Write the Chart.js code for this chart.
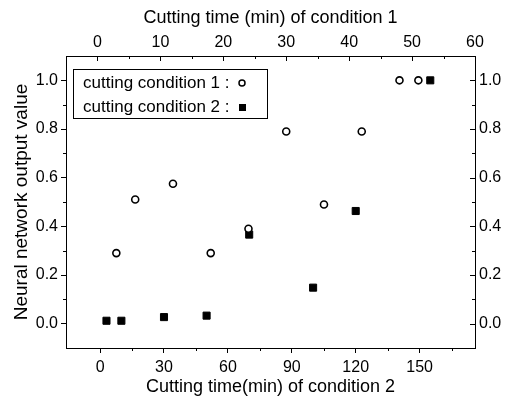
<!DOCTYPE html>
<html>
<head>
<meta charset="utf-8">
<script src="https://cdn.jsdelivr.net/npm/chart.js@4"></script>
<style>
  html, body { margin: 0; padding: 0; background: #fff; }
  #wrap { width: 508px; height: 407px; }
</style>
</head>
<body>
<div id="wrap"><canvas id="nnChart"></canvas></div>
<script>
// condition 1 is read on the top axis, condition 2 on the bottom one
const c1Time = [3, 6, 12, 18, 24, 30, 36, 42, 48, 51];
const c1Value = [0.29, 0.51, 0.575, 0.29, 0.39, 0.79, 0.49, 0.79, 1.0, 1.0];
const c2Time = [3, 10, 30, 50, 70, 100, 120, 155];
const c2Value = [0.012, 0.012, 0.027, 0.033, 0.366, 0.148, 0.463, 1.0];

const yTicks = [0, 0.2, 0.4, 0.6, 0.8, 1.0];
const yMinor = [0.1, 0.3, 0.5, 0.7, 0.9];
const x1Ticks = [0, 10, 20, 30, 40, 50, 60];
const x1Minor = [5, 15, 25, 35, 45, 55];
const x2Ticks = [0, 30, 60, 90, 120, 150];
const x2Minor = [15, 45, 75, 105, 135, 165];
const legendLabels = ["cutting condition 1 :", "cutting condition 2 :"];

const FONT = '"Liberation Sans", Arial, sans-serif';
const black = '#000';

// minor ticks, inward ticks on top/right, and the boxed legend
const extraTicks = {
  id: 'extraTicks',
  afterDraw(chart) {
    const ctx = chart.ctx;
    const ca = chart.chartArea;
    const s = chart.scales;
    const px = v => Math.round(v) + 0.5;
    ctx.save();
    ctx.strokeStyle = black;
    ctx.lineWidth = 1;
    ctx.beginPath();
    // left: minor outward
    yMinor.forEach(v => { const p = px(s.y.getPixelForValue(v)); ctx.moveTo(ca.left - 3, p); ctx.lineTo(ca.left, p); });
    // right: major + minor inward
    yTicks.forEach(v => { const p = px(s.y2.getPixelForValue(v)); ctx.moveTo(ca.right - 5, p); ctx.lineTo(ca.right, p); });
    yMinor.forEach(v => { const p = px(s.y2.getPixelForValue(v)); ctx.moveTo(ca.right - 3, p); ctx.lineTo(ca.right, p); });
    // bottom: minor outward
    x2Minor.forEach(v => { const p = px(s.x.getPixelForValue(v)); ctx.moveTo(p, ca.bottom); ctx.lineTo(p, ca.bottom + 3); });
    // top: major + minor inward
    x1Ticks.forEach(v => { const p = px(s.x1.getPixelForValue(v)); ctx.moveTo(p, ca.top); ctx.lineTo(p, ca.top + 5); });
    x1Minor.forEach(v => { const p = px(s.x1.getPixelForValue(v)); ctx.moveTo(p, ca.top); ctx.lineTo(p, ca.top + 3); });
    ctx.stroke();

    // legend box
    const bx = ca.left + 7, by = ca.top + 13;
    ctx.strokeRect(px(bx), px(by), 194, 49);
    ctx.fillStyle = black;
    ctx.font = '17px ' + FONT;
    ctx.textBaseline = 'middle';
    ctx.fillText(legendLabels[0], bx + 10, by + 14);
    ctx.fillText(legendLabels[1], bx + 10, by + 38);
    ctx.lineWidth = 1.5;
    ctx.beginPath();
    ctx.arc(bx + 169, by + 14, 3, 0, Math.PI * 2);
    ctx.stroke();
    ctx.fillRect(bx + 166, by + 35, 7, 7);
    ctx.restore();
  }
};

const tickFont = { family: FONT, size: 16 };
const titleFont = { family: FONT, size: 18 };

let ctx = document.getElementById('nnChart').getContext('2d');

let nnChart = new Chart(ctx, {
  type: 'scatter',
  data: {
    datasets: [{
      label: legendLabels[0],
      data: c1Time.map((t, i) => ({ x: t, y: c1Value[i] })),
      xAxisID: 'x1',
      yAxisID: 'y',
      pointStyle: 'circle',
      pointRadius: 3.5,
      borderWidth: 1.6,
      borderColor: black,
      backgroundColor: '#fff',
    }, {
      label: legendLabels[1],
      data: c2Time.map((t, i) => ({ x: t, y: c2Value[i] })),
      xAxisID: 'x',
      yAxisID: 'y',
      pointStyle: 'rect',
      pointRadius: 5,
      borderWidth: 1,
      borderColor: black,
      backgroundColor: black,
    }]
  },
  options: {
    responsive: true,
    maintainAspectRatio: false,
    animation: false,
    layout: { padding: 0 },
    plugins: {
      legend: { display: false },
      tooltip: { enabled: false },
    },
    scales: {
      x: {
        type: 'linear',
        position: 'bottom',
        min: -16,
        max: 176,
        afterBuildTicks: sc => { sc.ticks = x2Ticks.map(v => ({ value: v })); },
        afterFit: sc => { sc.height = 59; },
        ticks: { font: tickFont, color: black, padding: 5, maxRotation: 0 },
        grid: { drawOnChartArea: false, tickLength: 5, color: black },
        border: { color: black, width: 1 },
        title: {
          display: true,
          text: 'Cutting time(min) of condition 2',
          font: titleFont,
          color: black,
          padding: { top: 0, bottom: 9 },
        }
      },
      x1: {
        type: 'linear',
        position: 'top',
        min: -5,
        max: 60,
        afterBuildTicks: sc => { sc.ticks = x1Ticks.map(v => ({ value: v })); },
        afterFit: sc => { sc.height = 56; },
        ticks: { font: tickFont, color: black, padding: 4, maxRotation: 0 },
        grid: { drawOnChartArea: false, drawTicks: false, color: black },
        border: { color: black, width: 1 },
        title: {
          display: true,
          text: 'Cutting time (min) of condition 1',
          font: titleFont,
          color: black,
          padding: { top: 7, bottom: 0 },
        }
      },
      y: {
        type: 'linear',
        position: 'left',
        min: -0.1,
        max: 1.1,
        afterBuildTicks: sc => { sc.ticks = yTicks.map(v => ({ value: v })); },
        afterFit: sc => { sc.width = 66; },
        ticks: { font: tickFont, color: black, padding: 3, callback: v => v.toFixed(1) },
        grid: { drawOnChartArea: false, tickLength: 5, color: black },
        border: { color: black, width: 1 },
        title: {
          display: true,
          text: 'Neural network output value',
          font: { family: FONT, size: 19 },
          color: black,
          padding: { top: 10, bottom: 0 },
        }
      },
      y2: {
        type: 'linear',
        position: 'right',
        min: -0.1,
        max: 1.1,
        afterBuildTicks: sc => { sc.ticks = yTicks.map(v => ({ value: v })); },
        afterFit: sc => { sc.width = 33; },
        ticks: { font: tickFont, color: black, padding: 4, callback: v => v.toFixed(1) },
        grid: { drawOnChartArea: false, drawTicks: false, color: black },
        border: { color: black, width: 1 },
      }
    }
  },
  plugins: [extraTicks]
});
</script>
</body>
</html>
